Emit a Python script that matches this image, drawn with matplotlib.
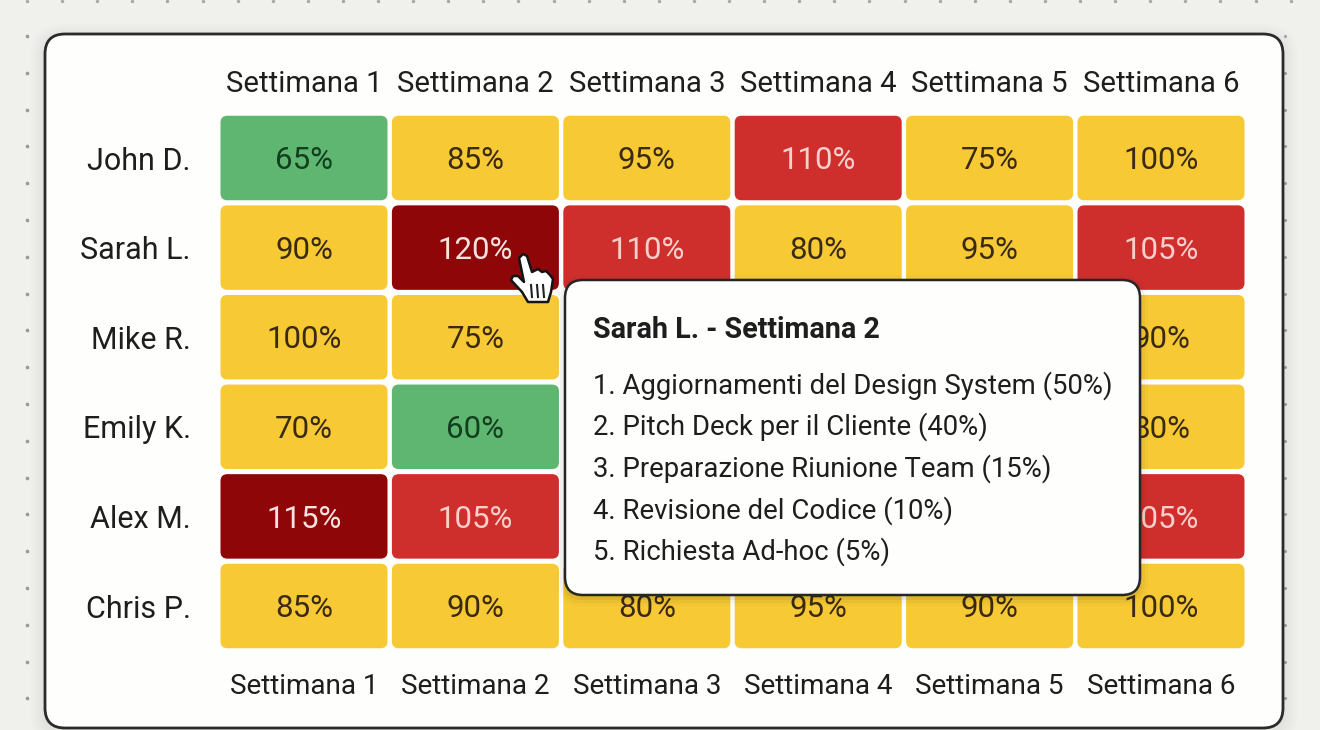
import matplotlib
matplotlib.use('Agg')
import matplotlib.pyplot as plt
from matplotlib.patches import FancyBboxPatch, Polygon

plt.rcParams['font.family'] = ['Roboto', 'DejaVu Sans']

# chart data, None = cell hidden behind the tooltip
people = ['John D.', 'Sarah L.', 'Mike R.', 'Emily K.', 'Alex M.', 'Chris P.']
weeks = ['Settimana 1', 'Settimana 2', 'Settimana 3', 'Settimana 4', 'Settimana 5', 'Settimana 6']
john = [65, 85, 95, 110, 75, 100]
sarah = [90, 120, 110, 80, 95, 105]
mike = [100, 75, None, None, None, 90]
emily = [70, 60, None, None, None, 80]
alex = [115, 105, None, None, None, 105]
chris = [85, 90, 80, 95, 90, 100]
rows = [john, sarah, mike, emily, alex, chris]

tooltip_title = 'Sarah L. - Settimana 2'
tooltip_tasks = ['Aggiornamenti del Design System', 'Pitch Deck per il Cliente',
                 'Preparazione Riunione Team', 'Revisione del Codice', 'Richiesta Ad-hoc']
tooltip_shares = [50, 40, 15, 10, 5]


def cell_colors(v):
    # fill and text colour for a load value
    if v < 70:
        return '#5FB671', '#123F1E'
    if v <= 100:
        return '#F6C935', '#3A2A12'
    if v <= 110:
        return '#CF2F2C', '#F8CFCB'
    return '#8E0608', '#F7E2E0'


W, H = 1320, 730
fig = plt.figure(figsize=(W / 100, H / 100), dpi=100, facecolor='#F0F0EC')

# page background in pixel coordinates
bg = fig.add_axes([0, 0, 1, 1], zorder=0)
bg.set_xlim(0, W)
bg.set_ylim(H, 0)
bg.axis('off')
bg.scatter([27 + 35.1 * i for i in range(37)], [1] * 37, s=6, color='#A8A8A4', lw=0)
bg.scatter([27] * 19, [36 + 36.8 * i for i in range(19)], s=7, color='#9A9A96', lw=0)
bg.scatter([1285] * 19, [36 + 36.8 * i for i in range(19)], s=5, color='#A8A8A4', lw=0)

# soft shadow and card
for grow in range(1, 16):
    bg.add_patch(FancyBboxPatch((45 - grow, 34 - grow + 4), 1238 + 2 * grow, 694 + 2 * grow,
                                boxstyle='round,pad=0,rounding_size=%d' % (20 + grow),
                                fc='black', ec='none', alpha=0.005))
bg.add_patch(FancyBboxPatch((45, 34), 1238, 694, boxstyle='round,pad=0,rounding_size=20',
                            fc='#FEFEFC', ec='#2B2B2B', lw=2))

# heatmap, one unit per cell
left, top, pitch_x, pitch_y = 218.3, 113.2, 171.4, 89.6
ax = fig.add_axes([left / W, 1 - (top + 6 * pitch_y) / H, 6 * pitch_x / W, 6 * pitch_y / H], zorder=1)
ax.set_xlim(-0.5, 5.5)
ax.set_ylim(5.5, -0.5)
ax.axis('off')
ax.patch.set_alpha(0)

cw, ch = 167 / pitch_x, 84.5 / pitch_y
for r, row in enumerate(rows):
    for c, v in enumerate(row):
        if v is None:
            continue
        fill, ink = cell_colors(v)
        ax.add_patch(FancyBboxPatch((c - cw / 2, r - ch / 2), cw, ch,
                                    boxstyle='round,pad=0,rounding_size=0.04',
                                    mutation_aspect=pitch_x / pitch_y, fc=fill, ec='none'))
        ax.text(c, r + 0.03, '%d%%' % v, ha='center', va='center', fontsize=22.5, color=ink)

for r, name in enumerate(people):
    ax.text(-0.66, r + 0.035, name, ha='right', va='center', fontsize=22, color='#1E1E1E', clip_on=False)
for c, week in enumerate(weeks):
    ax.text(c, -0.83, week, ha='center', va='center', fontsize=21.1, color='#1E1E1E', clip_on=False)
    ax.text(c, 5.9, week, ha='center', va='center', fontsize=20.1, color='#1E1E1E', clip_on=False)

# tooltip and cursor on top
over = fig.add_axes([0, 0, 1, 1], zorder=2)
over.set_xlim(0, W)
over.set_ylim(H, 0)
over.axis('off')
over.patch.set_alpha(0)

for grow, alpha in [(8, 0.02), (5, 0.03), (2, 0.05)]:
    over.add_patch(FancyBboxPatch((565 - grow, 280 - grow + 3), 575 + 2 * grow, 315 + 2 * grow,
                                  boxstyle='round,pad=0,rounding_size=%d' % (18 + grow),
                                  fc='black', ec='none', alpha=alpha))
over.add_patch(FancyBboxPatch((565, 280), 575, 315, boxstyle='round,pad=0,rounding_size=18',
                              fc='#FEFEFC', ec='#262626', lw=1.8))
over.text(593, 330, tooltip_title, ha='left', va='center', fontsize=20.7, fontweight='bold', color='#1E1E1E')
for i, (task, share) in enumerate(zip(tooltip_tasks, tooltip_shares)):
    over.text(593, 385.5 + i * 41.6, '%d. %s (%d%%)' % (i + 1, task, share),
              ha='left', va='center', fontsize=19.8, color='#1E1E1E')

hand = [(519, 258), (523, 254), (527, 256), (532, 272), (538, 269), (542, 272), (546, 271),
        (550, 275), (553, 279), (551, 292), (548, 302), (528, 302), (522, 292), (511, 280),
        (513, 276), (518, 276), (524, 282)]
over.add_patch(Polygon(hand, closed=True, fc='white', ec='#141414', lw=1.8, joinstyle='round'))
for x in (531, 537, 543):
    over.plot([x, x + 1], [285, 297], color='#222222', lw=1.5)

fig.savefig('out.png', dpi=100, facecolor=fig.get_facecolor())
